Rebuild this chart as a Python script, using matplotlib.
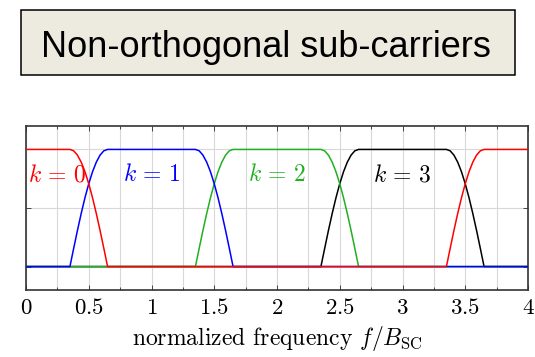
import matplotlib
matplotlib.use("Agg")
import matplotlib.pyplot as plt
from matplotlib.patches import Rectangle
import numpy as np

# ---- data ----
title_text = "Non-orthogonal sub-carriers"
carrier_labels = [r"$k\,=\,0$", r"$k\,=\,1$", r"$k\,=\,2$", r"$k\,=\,3$"]
label_x = [0.25, 1.0, 2.0, 3.0]
label_y = [0.78, 0.78, 0.78, 0.78]
carrier_colors = ["#ff0000", "#0000ff", "#20b020", "#000000"]
# rising-edge start and falling-edge start of each sub-carrier spectrum
carrier_rise_start = [-0.65, 0.35, 1.35, 2.35, 3.35]   # red k=0 wraps round to 4
carrier_fall_start = [0.35, 1.35, 2.35, 3.35, 4.35]
# extent of each drawn line (the red one is split at 3.35)
carrier_left_end = [-1.0, -1.0, -1.0, -1.0, 3.35]
carrier_right_end = [3.35, 5.0, 5.0, 5.0, 5.0]
carrier_color_idx = [0, 1, 2, 3, 0]
# shape of one spectral edge
edge_offsets = [0.0, 0.03, 0.06, 0.09, 0.12, 0.15, 0.18, 0.21, 0.24, 0.27, 0.30]
edge_values = [0.0, 0.156, 0.309, 0.454, 0.588, 0.707, 0.809, 0.891, 0.951, 0.988, 1.0]
x_ticks = [0, 0.5, 1, 1.5, 2, 2.5, 3, 3.5, 4]
x_tick_labels = ["0", "0.5", "1", "1.5", "2", "2.5", "3", "3.5", "4"]
y_ticks = [0, 0.5, 1]
x_label = r"normalized frequency $f/B_{\mathrm{SC}}$"

plt.rcParams["mathtext.fontset"] = "cm"
plt.rcParams["font.family"] = "serif"
plt.rcParams["font.serif"] = ["cmr10", "DejaVu Serif"]
plt.rcParams["axes.formatter.use_mathtext"] = True

fig = plt.figure(figsize=(5.35, 3.57), dpi=100)

# title box
fig.patches.append(Rectangle((21 / 535, 1 - 75 / 357), (515 - 21) / 535, 65.5 / 357,
                             transform=fig.transFigure, facecolor="#edebe0",
                             edgecolor="black", linewidth=1.1, zorder=0))
fig.text(0.497, 1 - 57 / 357, title_text, family="Liberation Sans", fontsize=26,
         ha="center", va="baseline", color="black")

ax = fig.add_axes([26 / 535, 1 - 290 / 357, (528 - 26) / 535, (290 - 126) / 357])
ax.set_xlim(0, 4)
ax.set_ylim(-0.2, 1.2)

eo = np.array(edge_offsets)
ev = np.array(edge_values)


def carrier_curve(r, f, a, b):
    xs = np.concatenate([[a], r + eo, f + eo, [b]])
    ys = np.concatenate([[0.0], ev, ev[::-1], [0.0]])
    keep = (xs >= a) & (xs <= b)
    return xs[keep], ys[keep]


# draw order: black, green, blue, red (red on top)
order = [3, 2, 1, 0, 4]
for z, i in enumerate(order):
    xs, ys = carrier_curve(carrier_rise_start[i], carrier_fall_start[i],
                           carrier_left_end[i], carrier_right_end[i])
    ax.plot(xs, ys, color=carrier_colors[carrier_color_idx[i]], lw=1.1,
            zorder=3 + z, solid_joinstyle="round", solid_capstyle="butt")

for lab, lx, ly, c in zip(carrier_labels, label_x, label_y, carrier_colors):
    ax.text(lx, ly, lab, color=c, fontsize=17, ha="center", va="center", zorder=10)

ax.set_xticks(x_ticks)
ax.set_xticklabels([f"${t}$" for t in x_tick_labels], fontsize=16.5)
ax.set_xticks(np.arange(0.25, 4, 0.5), minor=True)
ax.set_yticks(y_ticks)
ax.set_yticklabels([])
ax.grid(True, which="both", axis="x", color="#d8d8d8", lw=0.8, zorder=0)
ax.grid(True, which="major", axis="y", color="#d8d8d8", lw=0.8, zorder=0)
ax.set_axisbelow(True)
ax.tick_params(which="both", direction="in", top=True, right=True, length=3.5,
               width=0.7, color="#444444", pad=6)
ax.tick_params(which="minor", length=2.5)
for s in ax.spines.values():
    s.set_linewidth(1.2)
    s.set_color("#333333")
ax.set_xlabel(x_label, fontsize=17, labelpad=4)

fig.savefig("out.png", dpi=100)
